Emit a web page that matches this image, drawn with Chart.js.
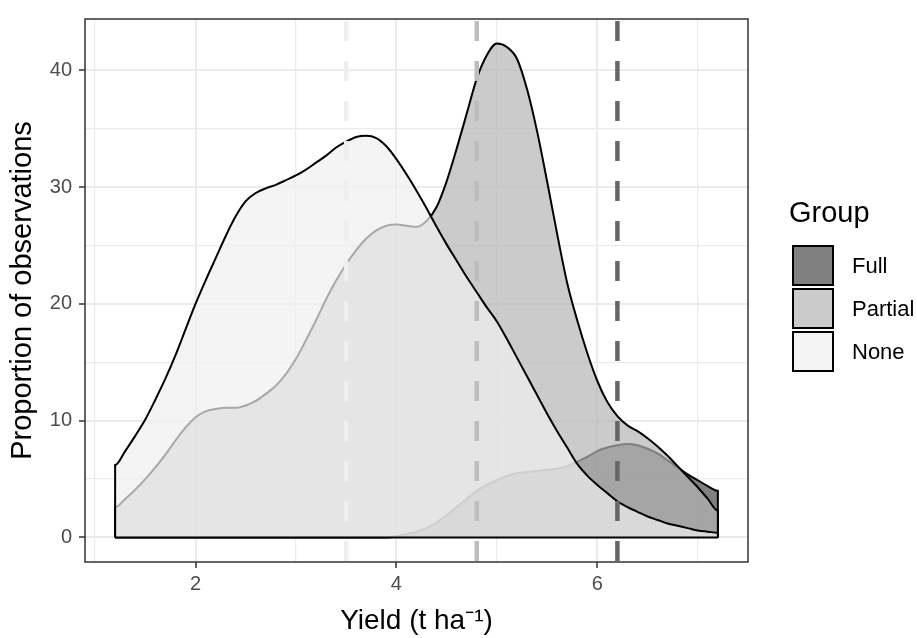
<!DOCTYPE html>
<html>
<head>
<meta charset="utf-8">
<script src="https://cdn.jsdelivr.net/npm/chart.js@4.4.1/dist/chart.umd.min.js"></script>
<style>
  html, body { margin: 0; padding: 0; background: #fff; }
  #wrap { width: 917px; height: 638px; position: relative; }
</style>
</head>
<body>
<div id="wrap"><canvas id="densityChart"></canvas></div>
<script>
// yield grid (t/ha) the densities were read at
const yields = [1.2, 1.3, 1.4, 1.5, 1.6, 1.7, 1.8, 1.9, 2.0, 2.1,
                2.2, 2.3, 2.4, 2.5, 2.6, 2.7, 2.8, 2.9, 3.0, 3.1,
                3.2, 3.3, 3.4, 3.5, 3.6, 3.7, 3.8, 3.9, 4.0, 4.1,
                4.2, 4.3, 4.4, 4.5, 4.6, 4.7, 4.8, 4.9, 5.0, 5.1,
                5.2, 5.3, 5.4, 5.5, 5.6, 5.7, 5.8, 5.9, 6.0, 6.1,
                6.2, 6.3, 6.4, 6.5, 6.6, 6.7, 6.8, 6.9, 7.0, 7.1,
                7.2];

const fullDensity = [0, 0, 0, 0, 0, 0, 0, 0, 0, 0,
                     0, 0, 0, 0, 0, 0, 0, 0, 0, 0,
                     0, 0, 0, 0, 0, 0, 0, 0, 0.1, 0.3,
                     0.5, 0.8, 1.3, 1.9, 2.6, 3.3, 4.0, 4.5, 4.9, 5.3,
                     5.5, 5.6, 5.7, 5.8, 5.9, 6.1, 6.5, 6.9, 7.4, 7.7,
                     7.9, 8.0, 7.9, 7.6, 7.2, 6.6, 6.0, 5.4, 4.9, 4.4,
                     4.0];

const partialDensity = [2.6, 3.3, 4.1, 5.0, 6.0, 7.1, 8.3, 9.4, 10.3, 10.8,
                        11.0, 11.1, 11.1, 11.3, 11.7, 12.3, 13.0, 14.0, 15.3, 16.9,
                        18.6, 20.4, 22.0, 23.4, 24.6, 25.6, 26.3, 26.7, 26.8, 26.7,
                        26.6, 27.1, 28.3, 30.5, 33.3, 36.3, 39.3, 41.3, 42.3, 42.0,
                        41.0, 38.4, 34.8, 30.5, 26.0, 21.8, 18.6, 15.8, 13.4, 11.6,
                        10.4, 9.6, 9.1, 8.5, 7.8, 7.0, 6.1, 5.2, 4.3, 3.3,
                        2.3];

const noneDensity = [6.2, 7.4, 8.7, 10.1, 11.8, 13.6, 15.6, 17.8, 20.0, 22.0,
                     23.9, 25.8, 27.5, 28.8, 29.5, 29.9, 30.2, 30.6, 31.0, 31.5,
                     32.1, 32.7, 33.4, 33.9, 34.3, 34.4, 34.2, 33.5, 32.4, 31.1,
                     29.7, 28.2, 26.6, 25.1, 23.7, 22.3, 21.0, 19.7, 18.5, 17.0,
                     15.4, 13.8, 12.2, 10.6, 9.1, 7.7, 6.3, 5.3, 4.5, 3.8,
                     3.1, 2.6, 2.2, 1.8, 1.5, 1.2, 1.0, 0.8, 0.6, 0.5,
                     0.4];

const groups = ['Full', 'Partial', 'None'];
const groupMeans = [6.2, 4.8, 3.5];

const xTicks = [2, 4, 6];
const xGrid = [1, 2, 3, 4, 5, 6, 7];
const yTicks = [0, 10, 20, 30, 40];
const yGrid = [0, 5, 10, 15, 20, 25, 30, 35, 40];

const xMin = 0.9, xMax = 7.5, yMin = -2.1, yMax = 44.4;

const fills = ['rgba(74,74,74,0.7)', 'rgba(181,181,181,0.7)', 'rgba(240,240,240,0.7)'];
const meanColors = ['#666666', '#bdbdbd', '#eeeeee'];

function closedCurve(series) {
  const pts = yields.map((x, i) => ({ x: x, y: series[i] }));
  pts.unshift({ x: yields[0], y: 0 });
  pts.push({ x: yields[yields.length - 1], y: 0 });
  return pts;
}

const densities = [fullDensity, partialDensity, noneDensity];
const datasets = [];

groups.forEach((g, i) => {
  datasets.push({
    label: g,
    isGroup: true,
    data: closedCurve(densities[i]),
    backgroundColor: fills[i],
    borderColor: '#000',
    borderWidth: 2,
    fill: 'origin',
    pointRadius: 0,
    cubicInterpolationMode: 'monotone',
    order: 10 - i
  });
});

datasets.push({
  label: 'baseline',
  data: [{ x: yields[0], y: 0 }, { x: yields[yields.length - 1], y: 0 }],
  borderColor: '#000',
  borderWidth: 2,
  pointRadius: 0,
  fill: false,
  order: 2
});

groups.forEach((g, i) => {
  datasets.push({
    label: g + ' mean',
    data: [{ x: groupMeans[i], y: yMax }, { x: groupMeans[i], y: yMin }],
    borderColor: meanColors[i],
    borderWidth: 4.5,
    borderDash: [20, 20],
    borderDashOffset: 38,
    pointRadius: 0,
    fill: false,
    order: 1
  });
});

const panelBorder = {
  id: 'panelBorder',
  afterDatasetsDraw(chart) {
    const { ctx, chartArea: a } = chart;
    ctx.save();
    ctx.strokeStyle = '#333';
    ctx.lineWidth = 1.5;
    ctx.strokeRect(a.left, a.top, a.right - a.left, a.bottom - a.top);
    ctx.restore();
  }
};

const groupLegend = {
  id: 'groupLegend',
  afterDraw(chart) {
    const ctx = chart.ctx;
    const items = chart.data.datasets.filter(d => d.isGroup);
    ctx.save();
    ctx.fillStyle = '#000';
    ctx.textBaseline = 'middle';
    ctx.textAlign = 'left';
    ctx.font = '29px "Liberation Sans", Arial, sans-serif';
    ctx.fillText('Group', 789, 214);
    ctx.font = '22px "Liberation Sans", Arial, sans-serif';
    items.forEach((d, i) => {
      const bx = 792, by = 245 + i * 43, bw = 42, bh = 41;
      ctx.fillStyle = '#fff';
      ctx.fillRect(bx, by, bw, bh);
      ctx.fillStyle = d.backgroundColor;
      ctx.fillRect(bx, by, bw, bh);
      ctx.strokeStyle = '#000';
      ctx.lineWidth = 2;
      ctx.strokeRect(bx + 1, by + 1, bw - 2, bh - 2);
      ctx.fillStyle = '#000';
      ctx.fillText(d.label, 852, by + bh / 2 + 1);
    });
    ctx.restore();
  }
};

Chart.defaults.font.family = '"Liberation Sans", Arial, sans-serif';

const ctx = document.getElementById('densityChart').getContext('2d');
const densityChart = new Chart(ctx, {
  type: 'line',
  data: { datasets: datasets },
  options: {
    responsive: true,
    maintainAspectRatio: false,
    animation: false,
    layout: { padding: { left: 0, right: 169, top: 13, bottom: 0 } },
    plugins: { legend: { display: false }, tooltip: { enabled: false } },
    scales: {
      x: {
        type: 'linear',
        min: xMin,
        max: xMax,
        afterBuildTicks: s => { s.ticks = xGrid.map(v => ({ value: v })); },
        afterFit: s => { s.height = 76; },
        border: { display: false },
        grid: {
          color: '#ebebeb',
          lineWidth: c => xTicks.includes(c.tick.value) ? 2 : 1.2,
          tickColor: c => xTicks.includes(c.tick.value) ? '#333' : 'rgba(0,0,0,0)',
          tickWidth: 1.5,
          tickLength: 6
        },
        ticks: {
          autoSkip: false,
          maxRotation: 0,
          color: '#4d4d4d',
          font: { size: 20 },
          padding: 4,
          callback: v => xTicks.includes(v) ? String(v) : ''
        },
        title: {
          display: true,
          text: 'Yield (t ha\u207B\u00B9)',
          color: '#000',
          font: { size: 28 },
          padding: { top: 0, bottom: 0 }
        }
      },
      y: {
        type: 'linear',
        min: yMin,
        max: yMax,
        afterBuildTicks: s => { s.ticks = yGrid.map(v => ({ value: v })); },
        afterFit: s => { s.width = 85; },
        border: { display: false },
        grid: {
          color: '#ebebeb',
          lineWidth: c => yTicks.includes(c.tick.value) ? 2 : 1.2,
          tickColor: c => yTicks.includes(c.tick.value) ? '#333' : 'rgba(0,0,0,0)',
          tickWidth: 1.5,
          tickLength: 6
        },
        ticks: {
          autoSkip: false,
          color: '#4d4d4d',
          font: { size: 20 },
          padding: 7,
          callback: v => yTicks.includes(v) ? String(v) : ''
        },
        title: {
          display: true,
          text: 'Proportion of observations',
          color: '#000',
          font: { size: 29 },
          padding: { top: 6, bottom: 0 }
        }
      }
    }
  },
  plugins: [panelBorder, groupLegend]
});
</script>
</body>
</html>
